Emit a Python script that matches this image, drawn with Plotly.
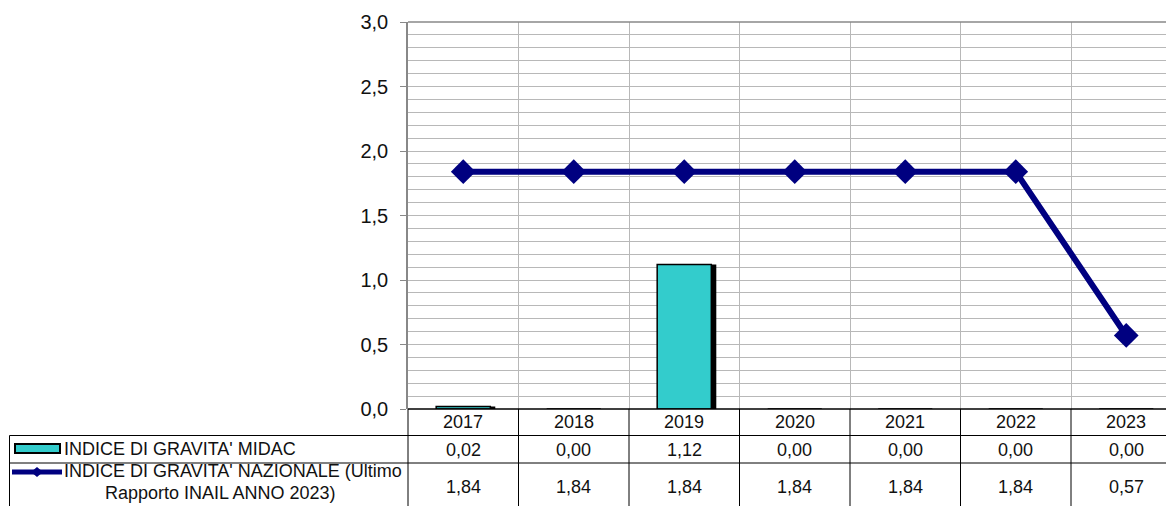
import plotly.graph_objects as go

years = ["2017", "2018", "2019", "2020", "2021", "2022", "2023"]
midac = [0.02, 0.00, 1.12, 0.00, 0.00, 0.00, 0.00]
nazionale = [1.84, 1.84, 1.84, 1.84, 1.84, 1.84, 0.57]
name_midac = "INDICE DI GRAVITA' MIDAC"
name_naz_1 = "INDICE DI GRAVITA' NAZIONALE (Ultimo"
name_naz_2 = "Rapporto INAIL ANNO 2023)"
y_ticks = [0.0, 0.5, 1.0, 1.5, 2.0, 2.5, 3.0]

W, H = 1166, 506
L, T, B = 408, 22, 97
PW = W - L
PH = H - T - B

FONT = "Liberation Sans, Arial, sans-serif"
CYAN = "#33CCCC"
NAVY = "#000080"
GRID = "#b8b8b8"


def px(x):
    return (x - L) / PW


def py(y):
    return (H - B - y) / PH


xs = list(range(len(years)))
fmt = lambda v: f"{v:.2f}".replace(".", ",")

fig = go.Figure()
# bar shadow
fig.add_trace(go.Bar(x=xs, y=midac, width=0.49, offset=-0.245 + 0.045,
                     marker=dict(color="black", line=dict(width=0)),
                     showlegend=False, hoverinfo="skip"))
fig.add_trace(go.Bar(x=xs, y=midac, width=0.49, offset=-0.245,
                     marker=dict(color=CYAN, line=dict(color="black", width=1.5)),
                     name=name_midac, showlegend=False))
fig.add_trace(go.Scatter(x=xs, y=nazionale, mode="lines+markers",
                         line=dict(color=NAVY, width=6),
                         marker=dict(symbol="diamond", size=19, color=NAVY),
                         name=name_naz_1 + " " + name_naz_2, showlegend=False))

shapes = []
# top border of plot area
shapes.append(dict(type="line", xref="paper", yref="paper", x0=0, x1=1, y0=1, y1=1,
                   line=dict(color="#888888", width=1.5)))
# table lines
row1_bot = 435.5
row2_bot = 463
black = dict(color="black", width=1)
shapes.append(dict(type="line", xref="paper", yref="paper", x0=0, x1=1, y0=0, y1=0,
                   line=dict(color="black", width=1.5)))
shapes.append(dict(type="line", xref="paper", yref="paper", x0=px(9.5), x1=1,
                   y0=py(row1_bot), y1=py(row1_bot), line=black))
shapes.append(dict(type="line", xref="paper", yref="paper", x0=px(9.5), x1=1,
                   y0=py(row2_bot), y1=py(row2_bot), line=black))
shapes.append(dict(type="line", xref="paper", yref="paper", x0=px(9.5), x1=px(9.5),
                   y0=py(row1_bot), y1=py(H + 5), line=black))
shapes.append(dict(type="line", xref="paper", yref="paper", x0=0, x1=0,
                   y0=0, y1=py(H + 5), line=black))
for i in range(len(years) - 1):
    shapes.append(dict(type="line", xref="x", yref="paper", x0=i + 0.5, x1=i + 0.5,
                       y0=0, y1=py(H + 5), line=black))
# legend keys
shapes.append(dict(type="rect", xref="paper", yref="paper", x0=px(15), x1=px(60),
                   y0=py(453), y1=py(444), fillcolor=CYAN,
                   line=dict(color="black", width=2)))
shapes.append(dict(type="line", xref="paper", yref="paper", x0=px(12), x1=px(62),
                   y0=py(472), y1=py(472), line=dict(color=NAVY, width=5)))
shapes.append(dict(type="path", xref="paper", yref="paper",
                   path=f"M {px(31)},{py(472)} L {px(37)},{py(467)} L {px(43)},{py(472)} L {px(37)},{py(477)} Z",
                   fillcolor=NAVY, line=dict(color=NAVY, width=0)))

annotations = []
tf = dict(family=FONT, size=18, color="#111111")
for i, yv in enumerate(years):
    annotations.append(dict(x=i, y=py(422), xref="x", yref="paper", text=yv,
                            showarrow=False, font=tf, xanchor="center", yanchor="middle"))
    annotations.append(dict(x=i, y=py(449.5), xref="x", yref="paper", text=fmt(midac[i]),
                            showarrow=False, font=tf, xanchor="center", yanchor="middle"))
    annotations.append(dict(x=i, y=py(487), xref="x", yref="paper", text=fmt(nazionale[i]),
                            showarrow=False, font=tf, xanchor="center", yanchor="middle"))
annotations.append(dict(x=px(62), y=py(449), xref="paper", yref="paper", text=name_midac,
                        showarrow=False, font=tf, xanchor="left", yanchor="middle"))
annotations.append(dict(x=px(62), y=py(471.5), xref="paper", yref="paper", text=name_naz_1,
                        showarrow=False, font=tf, xanchor="left", yanchor="middle"))
annotations.append(dict(x=px(220), y=py(493), xref="paper", yref="paper", text=name_naz_2,
                        showarrow=False, font=tf, xanchor="center", yanchor="middle"))

fig.update_layout(
    width=W, height=H,
    margin=dict(l=L, r=0, t=T, b=B, pad=0),
    paper_bgcolor="white", plot_bgcolor="white",
    separators=",.",
    barmode="overlay",
    shapes=shapes,
    annotations=annotations,
    xaxis=dict(range=[-0.5, -0.5 + PW / 110.5], tickvals=[i + 0.5 for i in range(len(years) - 1)],
               showticklabels=False, ticks="", showgrid=True, gridcolor=GRID, gridwidth=1,
               zeroline=False, showline=False, fixedrange=True),
    yaxis=dict(range=[0, 3], tickvals=y_ticks, tickformat=".1f", showgrid=True,
               gridcolor=GRID, gridwidth=1, ticks="outside", ticklen=6, tickcolor="#888888",
               showline=True, linecolor="#888888", linewidth=1.5, zeroline=False,
               ticklabelstandoff=8,
               tickfont=dict(family=FONT, size=20, color="#111111"),
               minor=dict(dtick=0.1, showgrid=True, gridcolor=GRID, gridwidth=1, ticks=""),
               fixedrange=True),
)

fig.write_html("out.html")
